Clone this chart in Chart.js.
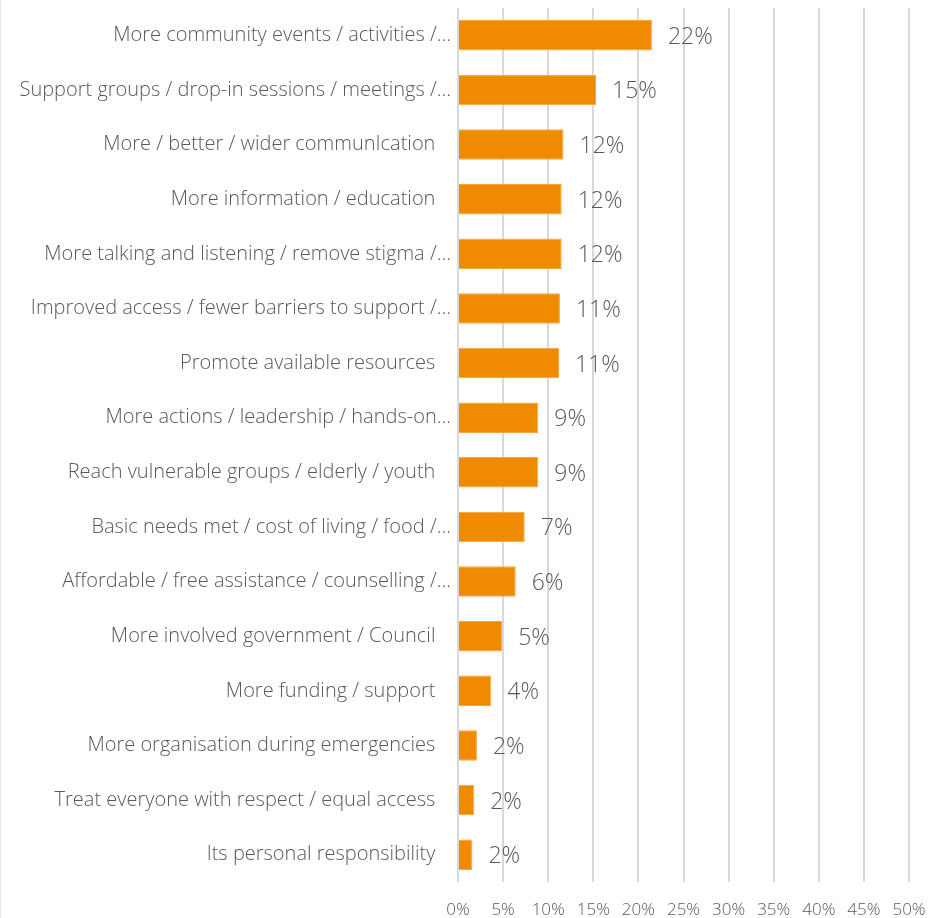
<!DOCTYPE html>
<html>
<head>
<meta charset="utf-8">
<script src="https://cdn.jsdelivr.net/npm/chart.js@4.4.1/dist/chart.umd.min.js"></script>
<style>
  html, body { margin: 0; padding: 0; background: #fff; }
  #wrap { width: 931px; height: 918px; border-left: 1px solid #e4e4ec; box-sizing: border-box; }
  canvas { display: block; }
</style>
</head>
<body>
<div id="wrap"><canvas id="chart" width="930" height="918"></canvas></div>
<script>
// Categories (top to bottom) and share of responses in percent
const categories = [
  "More community events / activities /...",
  "Support groups / drop-in sessions / meetings /...",
  "More / better / wider communIcation",
  "More information / education",
  "More talking and listening / remove stigma /...",
  "Improved access / fewer barriers to support /...",
  "Promote available resources",
  "More actions / leadership / hands-on...",
  "Reach vulnerable groups / elderly / youth",
  "Basic needs met / cost of living / food /...",
  "Affordable / free assistance / counselling /...",
  "More involved government / Council",
  "More funding / support",
  "More organisation during emergencies",
  "Treat everyone with respect / equal access",
  "Its personal responsibility"
];
const shares = [21.5, 15.3, 11.7, 11.5, 11.5, 11.3, 11.2, 8.9, 8.9, 7.4, 6.4, 4.9, 3.7, 2.1, 1.8, 1.6];
const xTicks = [0, 5, 10, 15, 20, 25, 30, 35, 40, 45, 50];

const FONT = "'Open Sans', 'Segoe UI', sans-serif";
const TEXT = "#595959";

// value labels to the right of each bar
const barValues = {
  id: "barValues",
  afterDatasetsDraw(chart) {
    const ctx = chart.ctx;
    const meta = chart.getDatasetMeta(0);
    ctx.save();
    ctx.font = "300 23px " + FONT;
    ctx.fillStyle = TEXT;
    ctx.textAlign = "left";
    ctx.textBaseline = "middle";
    meta.data.forEach((bar, i) => {
      ctx.fillText(Math.round(shares[i]) + "%", bar.x + 16, bar.y + 2);
    });
    ctx.restore();
  }
};

new Chart(document.getElementById("chart"), {
  type: "bar",
  data: {
    labels: categories,
    datasets: [{
      data: shares,
      backgroundColor: "#f08a00",
      borderColor: "#f5a640",
      borderWidth: 1,
      barPercentage: 0.56,
      categoryPercentage: 1
    }]
  },
  plugins: [barValues],
  options: {
    indexAxis: "y",
    responsive: false,
    animation: false,
    layout: { padding: { top: 8, right: 22, left: 0, bottom: 0 } },
    plugins: { legend: { display: false }, tooltip: { enabled: false } },
    scales: {
      x: {
        min: 0,
        max: 50,
        afterBuildTicks: (scale) => { scale.ticks = xTicks.map(v => ({ value: v })); },
        afterFit: (scale) => {
          scale.height = 36;
          scale.paddingLeft = 0;
          scale.paddingRight = 0;
        },
        border: { display: false },
        grid: { color: "#d9d9d9", lineWidth: 2, drawTicks: false },
        ticks: {
          padding: 18,
          color: TEXT,
          font: { family: FONT, size: 17, weight: 300 },
          callback: (v) => v + "%"
        }
      },
      y: {
        afterFit: (scale) => {
          scale.width = 457;
          scale.paddingTop = 0;
          scale.paddingBottom = 0;
        },
        border: { display: false },
        grid: { display: false, drawTicks: false },
        ticks: {
          autoSkip: false,
          padding: 7,
          color: TEXT,
          font: { family: FONT, size: 20, weight: 300 },
          // truncated labels run a little further right than whole ones
          callback: (v, i) => categories[i].endsWith("...") ? categories[i] : categories[i] + "   "
        }
      }
    }
  }
});
</script>
</body>
</html>
